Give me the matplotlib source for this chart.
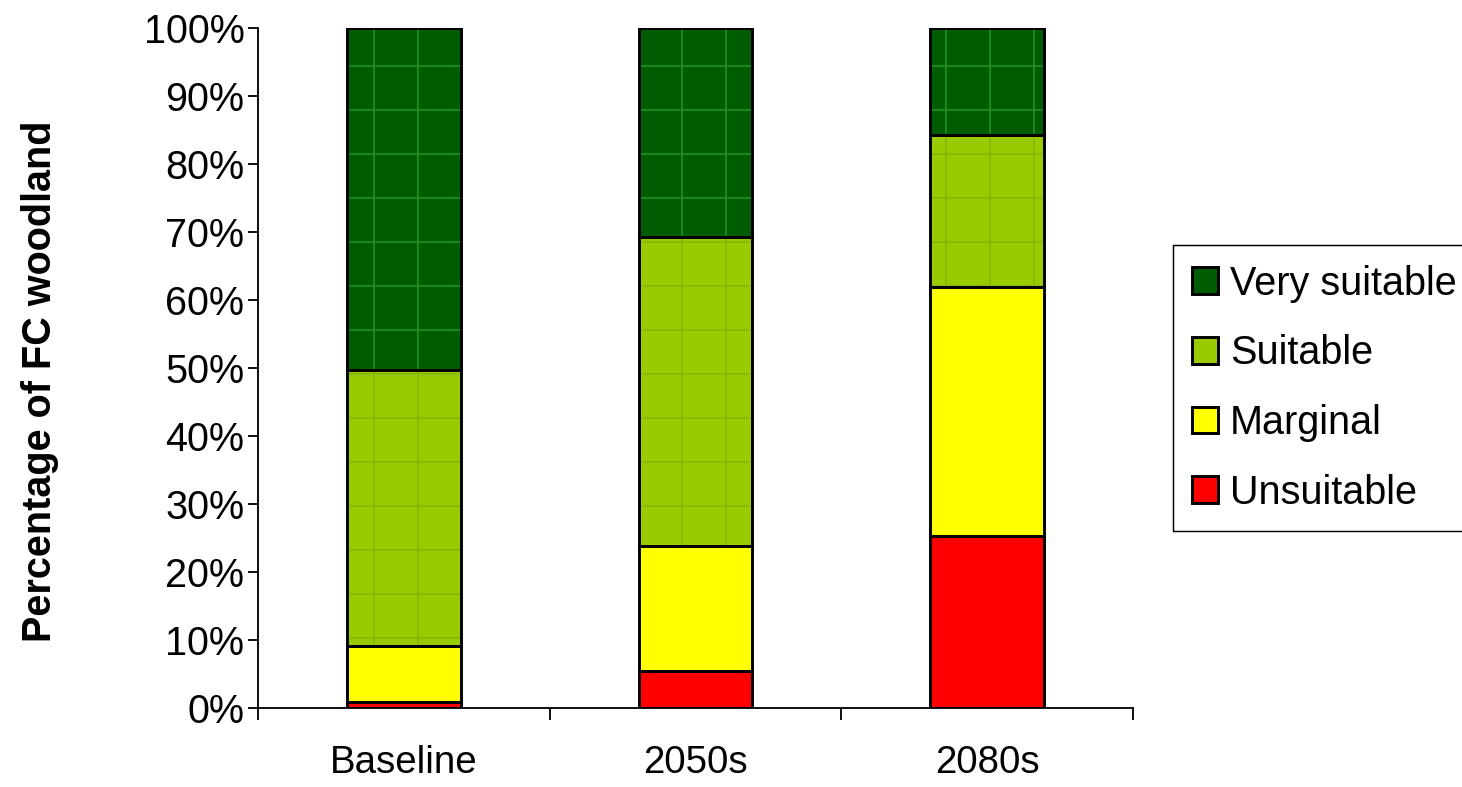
import matplotlib.pyplot as plt
from matplotlib.patches import Patch

plt.rcParams['font.family'] = ['Liberation Sans', 'DejaVu Sans']
plt.rcParams['hatch.linewidth'] = 0.5

# data (percent of FC woodland)
periods = ['Baseline', '2050s', '2080s']
unsuitable = [0.9, 5.4, 25.3]
marginal = [8.2, 18.4, 36.6]
suitable = [40.6, 45.5, 22.4]
very_suitable = [50.3, 30.7, 15.7]

series = [
    ('Unsuitable', unsuitable, '#ff0000', None, None),
    ('Marginal', marginal, '#ffff00', None, None),
    ('Suitable', suitable, '#99cc00', '+', '#86b800'),
    ('Very suitable', very_suitable, '#005c00', '+', '#1e8c1e'),
]

DPI = 264
fig = plt.figure(figsize=(1462 / DPI, 787 / DPI), dpi=DPI)
ax = fig.add_axes([0.1765, 0.1004, 0.775 - 0.1765, 0.9644 - 0.1004])

x = list(range(len(periods)))
width = 0.39
bottom = [0.0] * len(periods)
handles = []
for name, vals, col, hatch, hcol in series:
    # fill + texture first, then the black outline on top
    ax.bar(x, vals, width, bottom=bottom, color=col, hatch=hatch,
           edgecolor=hcol if hcol else col, linewidth=0, zorder=2)
    ax.bar(x, vals, width, bottom=bottom, fill=False,
           edgecolor='black', linewidth=0.8, zorder=3)
    handles.append(Patch(facecolor=col, edgecolor='black', linewidth=0.8, label=name))
    bottom = [b + v for b, v in zip(bottom, vals)]

ax.set_xlim(-0.5, len(periods) - 0.5)
ax.set_ylim(0, 100)
ax.set_yticks(range(0, 101, 10))
ax.set_yticklabels([f'{v}%' for v in range(0, 101, 10)])

# ticks at category boundaries, labels at centres
ax.set_xticks([i - 0.5 for i in range(len(periods) + 1)])
ax.set_xticklabels([])
ax.set_xticks(x, minor=True)
ax.set_xticklabels(periods, minor=True)
ax.tick_params(axis='x', which='minor', length=0, pad=10, labelsize=10.5)
ax.tick_params(axis='x', which='major', length=3.2, width=0.5)
ax.tick_params(axis='y', length=2.7, width=0.5, labelsize=10.8, pad=1)

for s in ['top', 'right']:
    ax.spines[s].set_visible(False)
for s in ['left', 'bottom']:
    ax.spines[s].set_linewidth(0.5)

ax.set_ylabel('Percentage of FC woodland', fontsize=10.8, fontweight='bold')
ax.yaxis.set_label_coords(-0.228, 0.48)

leg = fig.legend(handles=handles[::-1], loc='upper left', bbox_to_anchor=(0.802, 0.689),
                 bbox_transform=fig.transFigure, borderaxespad=0, fontsize=10.8,
                 fancybox=False, edgecolor='black', framealpha=1,
                 handlelength=0.65, handleheight=0.65, handletextpad=0.3,
                 labelspacing=0.8, borderpad=0.5)
leg.get_frame().set_linewidth(0.4)

fig.savefig('out.png', dpi=DPI)
